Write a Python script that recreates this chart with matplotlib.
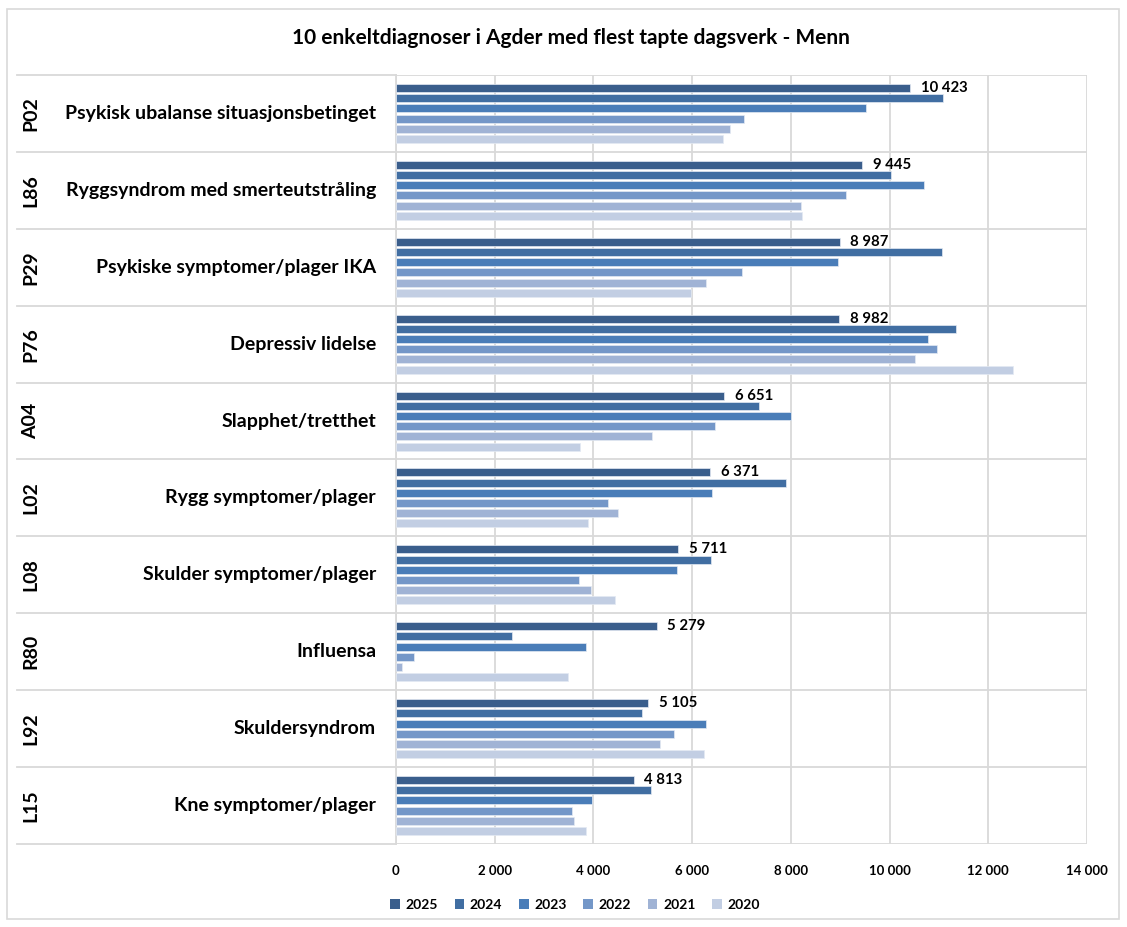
import matplotlib
matplotlib.use('Agg')
import matplotlib.pyplot as plt
import numpy as np
from matplotlib.transforms import blended_transform_factory
from matplotlib.lines import Line2D
from matplotlib.patches import Rectangle, Patch
from matplotlib.ticker import FuncFormatter

plt.rcParams['font.family'] = ['Lato', 'DejaVu Sans']

title = "10 enkeltdiagnoser i Agder med flest tapte dagsverk - Menn"
codes = ['P02', 'L86', 'P29', 'P76', 'A04', 'L02', 'L08', 'R80', 'L92', 'L15']
names = ['Psykisk ubalanse situasjonsbetinget', 'Ryggsyndrom med smerteutstråling',
         'Psykiske symptomer/plager IKA', 'Depressiv lidelse', 'Slapphet/tretthet',
         'Rygg symptomer/plager', 'Skulder symptomer/plager', 'Influensa',
         'Skuldersyndrom', 'Kne symptomer/plager']
years = ['2025', '2024', '2023', '2022', '2021', '2020']
v2025 = [10423, 9445, 8987, 8982, 6651, 6371, 5711, 5279, 5105, 4813]
v2024 = [11085, 10032, 11068, 11348, 7347, 7906, 6391, 2350, 4990, 5172]
v2023 = [9513, 10702, 8964, 10779, 7993, 6411, 5690, 3845, 6283, 3973]
v2022 = [7047, 9114, 7008, 10960, 6465, 4290, 3717, 357, 5636, 3569]
v2021 = [6768, 8204, 6290, 10515, 5192, 4492, 3953, 121, 5340, 3603]
v2020 = [6624, 8220, 5985, 12495, 3731, 3886, 4438, 3481, 6242, 3845]
series = [v2025, v2024, v2023, v2022, v2021, v2020]
xticks = [0, 2000, 4000, 6000, 8000, 10000, 12000, 14000]

colors = ['#3A5E8C', '#416EA2', '#4A7DB8', '#7497C8', '#A0B3D5', '#C2CEE3']
grid_c = '#D9D9D9'

W, H = 1127, 927
fig = plt.figure(figsize=(W / 100, H / 100), dpi=100)
ax = fig.add_axes([396 / W, 1 - 844 / H, (1087 - 396) / W, (844 - 75) / H])

n = len(codes)
idx = np.arange(n)
pitch = 0.1325
bh = 0.104
for j, (vals, c) in enumerate(zip(series, colors)):
    ax.barh(idx + (j - 2.5) * pitch, vals, height=bh, color=c,
            edgecolor='#E4EAF3', linewidth=0.5, zorder=3)

fmt = lambda v: f"{int(v):,}".replace(",", " ")
for i, v in enumerate(v2025):
    ax.text(v + 220, i - 2.5 * pitch, fmt(v), ha='left', va='center',
            fontsize=10.7, fontweight='bold', color='black', zorder=4)

ax.set_xlim(0, 14000)
ax.set_ylim(n - 0.5, -0.5)
ax.set_xticks(xticks)
ax.xaxis.set_major_formatter(FuncFormatter(lambda v, p: fmt(v)))
ax.set_yticks([])
ax.set_yticks(np.arange(-0.5, n, 1), minor=True)
ax.tick_params(axis='y', which='both', length=0, labelleft=False)
ax.tick_params(axis='x', length=0, pad=15, labelsize=9.5)
for lab in ax.get_xticklabels():
    lab.set_fontweight('bold')
ax.grid(axis='x', which='major', color=grid_c, linewidth=1.3, zorder=0)
ax.grid(axis='y', which='minor', color=grid_c, linewidth=1.3, zorder=0)
for s in ['top', 'right', 'bottom']:
    ax.spines[s].set_visible(False)
ax.spines['left'].set_color(grid_c)
ax.spines['left'].set_linewidth(1.3)

trans = blended_transform_factory(fig.transFigure, ax.transData)
for b in np.arange(-0.5, n, 1):
    fig.add_artist(Line2D([17 / W, 396 / W], [b, b], transform=trans,
                          color=grid_c, linewidth=1.3))
for i in range(n):
    fig.text(376 / W, i, names[i], transform=trans, ha='right', va='center',
             fontsize=14, fontweight='bold')
    fig.text(31 / W, i, codes[i], transform=trans, ha='center', va='center',
             fontsize=14, fontweight='bold', rotation=90)

fig.text(571 / W, 1 - 38 / H, title, ha='center', va='center',
         fontsize=15, fontweight='bold')

handles = [Patch(facecolor=c, edgecolor='none') for c in colors]
fig.legend(handles, years, loc='center', bbox_to_anchor=(575 / W, 1 - 905 / H),
           ncol=6, frameon=False, handlelength=0.7, handleheight=0.7,
           columnspacing=1.2, handletextpad=0.4,
           prop={'weight': 'bold', 'size': 10})

fig.patches.append(Rectangle((7 / W, 1 - 919 / H), (1119 - 7) / W, (919 - 9) / H,
                             transform=fig.transFigure, fill=False,
                             edgecolor=grid_c, linewidth=1.2))

fig.savefig('out.png', dpi=100)
